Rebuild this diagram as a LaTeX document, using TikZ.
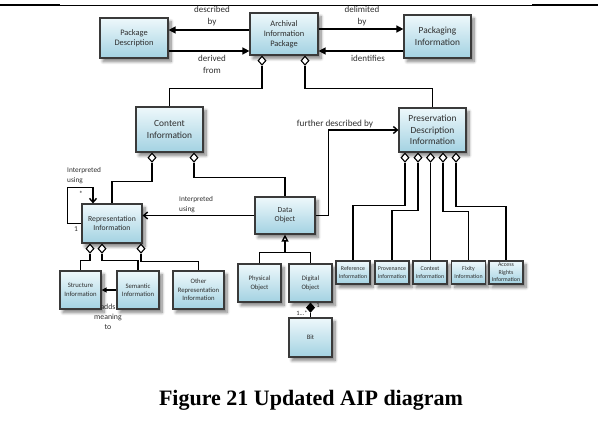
\documentclass[tikz,border=0pt]{standalone}
\usepackage{fontspec}
\setmainfont{Carlito}
\newfontfamily\capfont{Liberation Serif}
\usetikzlibrary{arrows.meta,shapes.geometric,shadows.blur}

\definecolor{boxline}{HTML}{3A3A3A}
\definecolor{boxtop}{HTML}{EEF8FB}
\definecolor{boxbot}{HTML}{A3D2E2}
\definecolor{ink}{HTML}{2E2E2E}

\tikzset{
  box/.style={rectangle, draw=boxline, line width=1.2pt, top color=boxtop,
    bottom color=boxbot, text=ink, align=center, inner sep=0pt,
    blur shadow={shadow xshift=3pt, shadow yshift=-3.5pt,
      shadow blur radius=3pt, shadow blur steps=8, shadow opacity=50}},
  fnine/.style={font=\fontsize{9.4}{11.5}\selectfont},
  feight/.style={font=\fontsize{8.4}{10}\selectfont},
  fseven/.style={font=\fontsize{7.7}{9}\selectfont},
  fsix/.style={font=\fontsize{6.7}{8.5}\selectfont},
  sbox/.style={box, font=\fontsize{5.9}{7.6}\selectfont,
    minimum width=34pt, minimum height=23pt},
  link/.style={line width=1.4pt, draw=black},
  solidtip/.style={link, -{Triangle[length=7pt,width=7pt]}},
  opentip/.style={link, -{Straight Barb[length=4pt,width=7pt]}},
  smalltip/.style={link, -{Triangle[length=5pt,width=5pt]}},
  odia/.style={diamond, draw=black, fill=white, line width=1.1pt,
    minimum width=8pt, minimum height=9pt, inner sep=0pt},
  fdia/.style={odia, fill=black},
  lab/.style={text=ink, inner sep=0pt, align=center},
}

\begin{document}
\begin{tikzpicture}[x=1pt, y=-1pt]
\useasboundingbox (0,0) rectangle (598,439);

% page rule
\draw[line width=0.8pt] (0,5) -- (598,5);
\draw[line width=2pt] (0,5) -- (60,5);
\draw[line width=2pt] (532,5) -- (598,5);

% top row
\node[box, feight, minimum width=68pt, minimum height=40pt] (pd) at (134,38) {Package\\Description};
\node[box, feight, minimum width=68pt, minimum height=42pt] (aip) at (284,34) {Archival\\Information\\Package};
\node[box, fnine, minimum width=67pt, minimum height=43pt] (pkg) at (437.5,36.5) {Packaging\\Information};

% second row
\node[box, fnine, minimum width=67pt, minimum height=45pt] (ci) at (169.5,129.5) {Content\\Information};
\node[box, fnine, minimum width=67pt, minimum height=44pt] (pdi) at (432.5,130) {Preservation\\Description\\Information};

% representation and data object
\node[box, fseven, minimum width=60pt, minimum height=39pt] (ri) at (112,223.5) {Representation\\Information};
\node[box, fseven, minimum width=60pt, minimum height=37pt] (dob) at (285,215.5) {Data\\Object};

\node[box, fsix, minimum width=43pt, minimum height=38pt] (po) at (259.5,283) {Physical\\Object};
\node[box, fsix, minimum width=43pt, minimum height=38pt] (dgo) at (310.5,283) {Digital\\Object};
\node[box, fsix, minimum width=43pt, minimum height=39pt] (bit) at (310.5,337.5) {Bit};

\node[box, fsix, minimum width=41pt, minimum height=38pt] (str) at (80.5,290) {Structure\\Information};
\node[box, fsix, minimum width=42pt, minimum height=38pt] (sem) at (138,290) {Semantic\\Information};
\node[box, fsix, minimum width=51pt, minimum height=38pt] (oth) at (198.5,290) {Other\\Representation\\Information};

% preservation description parts
\node[sbox] (refi) at (353,272.5) {Reference\\Information};
\node[sbox] (prov) at (392,272.5) {Provenance\\Information};
\node[sbox] (ctx) at (430,272.5) {Context\\Information};
\node[sbox] (fix) at (468.5,272.5) {Fixity\\Information};
\node[sbox] (acc) at (506,272.5) {Access\\Rights\\Information};

% AIP associations
\draw[solidtip] ([yshift=4pt]aip.west) -- ([yshift=4pt]aip.west -| pd.east);
\draw[solidtip] ([yshift=-13pt]pd.east) -- ([yshift=-13pt]pd.east -| aip.west);
\draw[solidtip] ([yshift=5pt]aip.east) -- ([yshift=5pt]aip.east -| pkg.west);
\draw[solidtip] ([yshift=-14.5pt]pkg.west) -- ([yshift=-14.5pt]pkg.west -| aip.east);

\node[lab, font=\fontsize{9}{12}\selectfont] (l1) at (212,16.5) {described\\by};
\node[lab, font=\fontsize{9}{12}\selectfont] (l2) at (212,64) {derived\\from};
\node[lab, font=\fontsize{9}{12}\selectfont] (l3) at (362,16) {delimited\\by};
\node[lab, font=\fontsize{9}{12}\selectfont] (l4) at (368,58) {identifies};

% AIP aggregation
\node[odia, anchor=north] (a1) at ([xshift=-22pt]aip.south) {};
\node[odia, anchor=north] (a2) at ([xshift=21pt]aip.south) {};
\draw[link] (a1.south) |- ([yshift=18pt]ci.north) -- (ci.north);
\draw[link] (a2.south) |- ([yshift=19pt]pdi.north) -- (pdi.north);

% content information aggregation
\node[odia, anchor=north] (c1) at ([xshift=-17.5pt]ci.south) {};
\node[odia, anchor=north] (c2) at ([xshift=24.5pt]ci.south) {};
\draw[link] (c1.south) |- ([yshift=22pt]ri.north) -- (ri.north);
\draw[link] (c2.south) |- ([yshift=19pt]dob.north) -- (dob.north);

% representation information self reference
\draw[opentip] (ri.west) -- ++(-14,0) |- ([xshift=-19pt,yshift=16pt]ri.north) -- ([xshift=-19pt]ri.north);
\node[lab, font=\fontsize{7.3}{10}\selectfont, align=left, anchor=north west] (l5) at (67,167) {Interpreted\\using};
\node[lab, font=\fontsize{7.5}{8}\selectfont] (l6) at (81,194) {*};
\node[lab, font=\fontsize{7.5}{8}\selectfont] (l7) at (76,229) {1};

% data object links
\draw[opentip] (dob.west) -- (dob.west -| ri.east);
\node[lab, font=\fontsize{7.3}{10}\selectfont, align=left, anchor=north west] (l8) at (179,196) {Interpreted\\using};
\draw[opentip] (dob.east) -- ++(13,0) |- (pdi.west);
\node[lab, font=\fontsize{9.2}{11}\selectfont] (l9) at (335,124) {further described by};

% preservation description aggregation
\node[odia, anchor=north] (p1) at ([xshift=-27.5pt]pdi.south) {};
\node[odia, anchor=north] (p2) at ([xshift=-14.5pt]pdi.south) {};
\node[odia, anchor=north] (p3) at ([xshift=-2pt]pdi.south) {};
\node[odia, anchor=north] (p4) at ([xshift=10.5pt]pdi.south) {};
\node[odia, anchor=north] (p5) at ([xshift=23.5pt]pdi.south) {};
\draw[link] (p1.south) |- ([yshift=55pt]refi.north) -- (refi.north);
\draw[link] (p2.south) |- ([yshift=50pt]prov.north) -- (prov.north);
\draw[link] (p3.south) -- (p3.south |- ctx.north);
\draw[link] (p4.south) |- ([yshift=49pt]fix.north) -- (fix.north);
\draw[link] (p5.south) |- ([yshift=54pt]acc.north) -- (acc.north);

% data object generalisation
\coordinate (join) at ([yshift=-18pt]dob.south);
\draw[link] (po.north) |- (join) -| (dgo.north);
\draw[link, -{Triangle[open, length=7pt, width=7pt]}] (join) -- (dob.south);

% digital object composition
\node[fdia, anchor=north] (g1) at (dgo.south) {};
\draw[link] (g1.south) -- (bit.north);
\node[lab, font=\fontsize{6.5}{7}\selectfont] (l10) at (318,305) {1};
\node[lab, font=\fontsize{6.5}{7}\selectfont] (l11) at (302,313) {1...*};

% representation information aggregation
\node[odia, anchor=north] (r1) at ([xshift=-22pt]ri.south) {};
\node[odia, anchor=north] (r2) at ([xshift=-10pt]ri.south) {};
\node[odia, anchor=north] (r3) at ([xshift=29pt]ri.south) {};
\draw[link] (r1.south) |- ([yshift=10pt]str.north) -- (str.north);
\draw[link] (r2.south) |- ([yshift=10pt]sem.north) -- (sem.north);
\draw[link] (r3.south) |- ([yshift=9pt]oth.north) -- (oth.north);

% semantic to structure
\draw[smalltip] (sem.west) -- (sem.west -| str.east);
\node[lab, font=\fontsize{7.8}{10}\selectfont] (l12) at (108,317) {adds\\meaning\\to};

% caption
\node[font=\capfont\bfseries\fontsize{22}{26}\selectfont, inner sep=0pt] (cap) at (311,400) {Figure 21 Updated AIP diagram};
\end{tikzpicture}
\end{document}
